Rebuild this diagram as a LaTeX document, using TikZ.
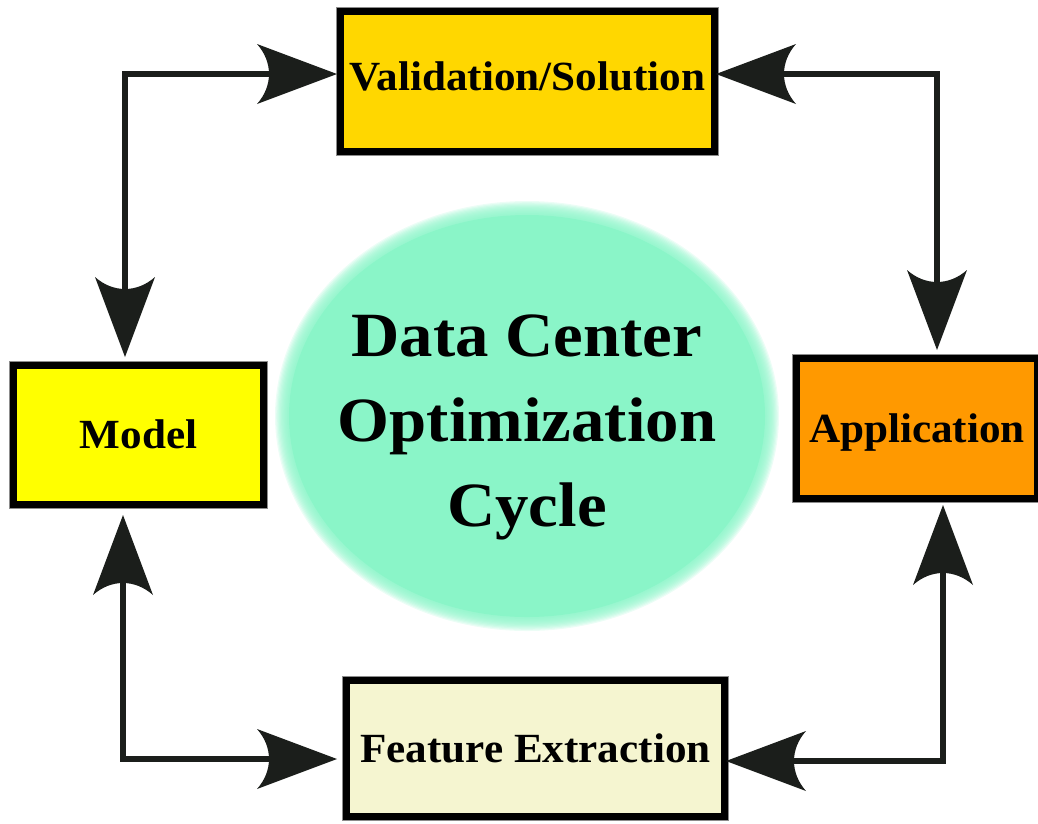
\documentclass[tikz,border=0pt]{standalone}
\usepackage{fontspec}
\setmainfont{Liberation Serif}
\newfontfamily\hubfont{Liberation Serif}[FakeStretch=1.06]
\newfontfamily\stagefont{Liberation Serif}[FakeStretch=1.04]
\usetikzlibrary{shapes.geometric}

% Kite-shaped arrow head with a concave back
\pgfdeclarearrow{
  name = Kite,
  setup code = {
    \pgfarrowssettipend{0pt}
    \pgfarrowssetlineend{-64pt}
    \pgfarrowssetbackend{-80pt}
    \pgfarrowshullpoint{0pt}{0pt}
    \pgfarrowshullpoint{-80pt}{30pt}
    \pgfarrowshullpoint{-80pt}{-30pt}
  },
  drawing code = {
    \pgfpathmoveto{\pgfqpoint{0pt}{0pt}}
    \pgfpathlineto{\pgfqpoint{-80pt}{30pt}}
    \pgfpathcurveto{\pgfqpoint{-64pt}{12pt}}{\pgfqpoint{-64pt}{-12pt}}{\pgfqpoint{-80pt}{-30pt}}
    \pgfpathclose
    \pgfusepathqfill
  }
}

\definecolor{goldc}{HTML}{FFD700}
\definecolor{yellowc}{HTML}{FFFF00}
\definecolor{orangec}{HTML}{FF9900}
\definecolor{beigec}{HTML}{F5F5D0}
\definecolor{hubc}{HTML}{8AF5C8}
\definecolor{linkc}{HTML}{1B1E1B}

\tikzset{
  stage/.style={rectangle, draw=black, line width=7pt, inner sep=0pt,
    text height=27pt, text depth=0pt,
    font=\stagefont\bfseries\fontsize{41.5}{49}\selectfont,
    preaction={draw=black, line width=9pt, draw opacity=0.45}},
  link/.style={draw=linkc, line width=6pt, {Kite}-{Kite}},
  hubtext/.style={font=\hubfont\bfseries\fontsize{63}{85}\selectfont, align=center},
}

\begin{document}
\begin{tikzpicture}[x=1pt, y=-1pt]
\useasboundingbox (0,0) rectangle (1038,823);

% soft-edged central ellipse
\foreach \k in {0,...,11} {
  \fill[hubc, fill opacity=0.16] (527,416) ellipse [x radius={252-1.2*\k}, y radius={215-1.2*\k}];
}
\fill[hubc] (527,416) ellipse [x radius=238, y radius=201];
\node[hubtext] (hub) at (527,427) {Data Center\\Optimization\\Cycle};

% process stages
\node[stage, fill=goldc, minimum width=374pt, minimum height=140pt, text depth=10pt] (val) at (527.5,81.5) {Validation/Solution};
\node[stage, fill=yellowc, minimum width=250pt, minimum height=139pt] (model) at (138.5,435) {Model};
\node[stage, fill=orangec, minimum width=241pt, minimum height=140pt] (app) at (917,428.5) {Application};
\node[stage, fill=beigec, minimum width=378pt, minimum height=136pt] (feat) at (535.5,748.5) {Feature Extraction};

% corner points of the connectors
\coordinate (nw) at (125,74);
\coordinate (ne) at (937,74);
\coordinate (sw) at (123,759);
\coordinate (se) at (943,761);

% two-way links
\draw[link, shorten <=5pt] (model.north -| nw) -- (nw) -- (val.west |- nw);
\draw[link, shorten <=-2pt, shorten >=5pt] (val.east |- ne) -- (ne) -- (app.north -| ne);
\draw[link, shorten <=7pt, shorten >=6pt] (model.south -| sw) -- (sw) -- (feat.west |- sw);
\draw[link, shorten <=3pt, shorten >=-2pt] (app.south -| se) -- (se) -- (feat.east |- se);
\end{tikzpicture}
\end{document}
